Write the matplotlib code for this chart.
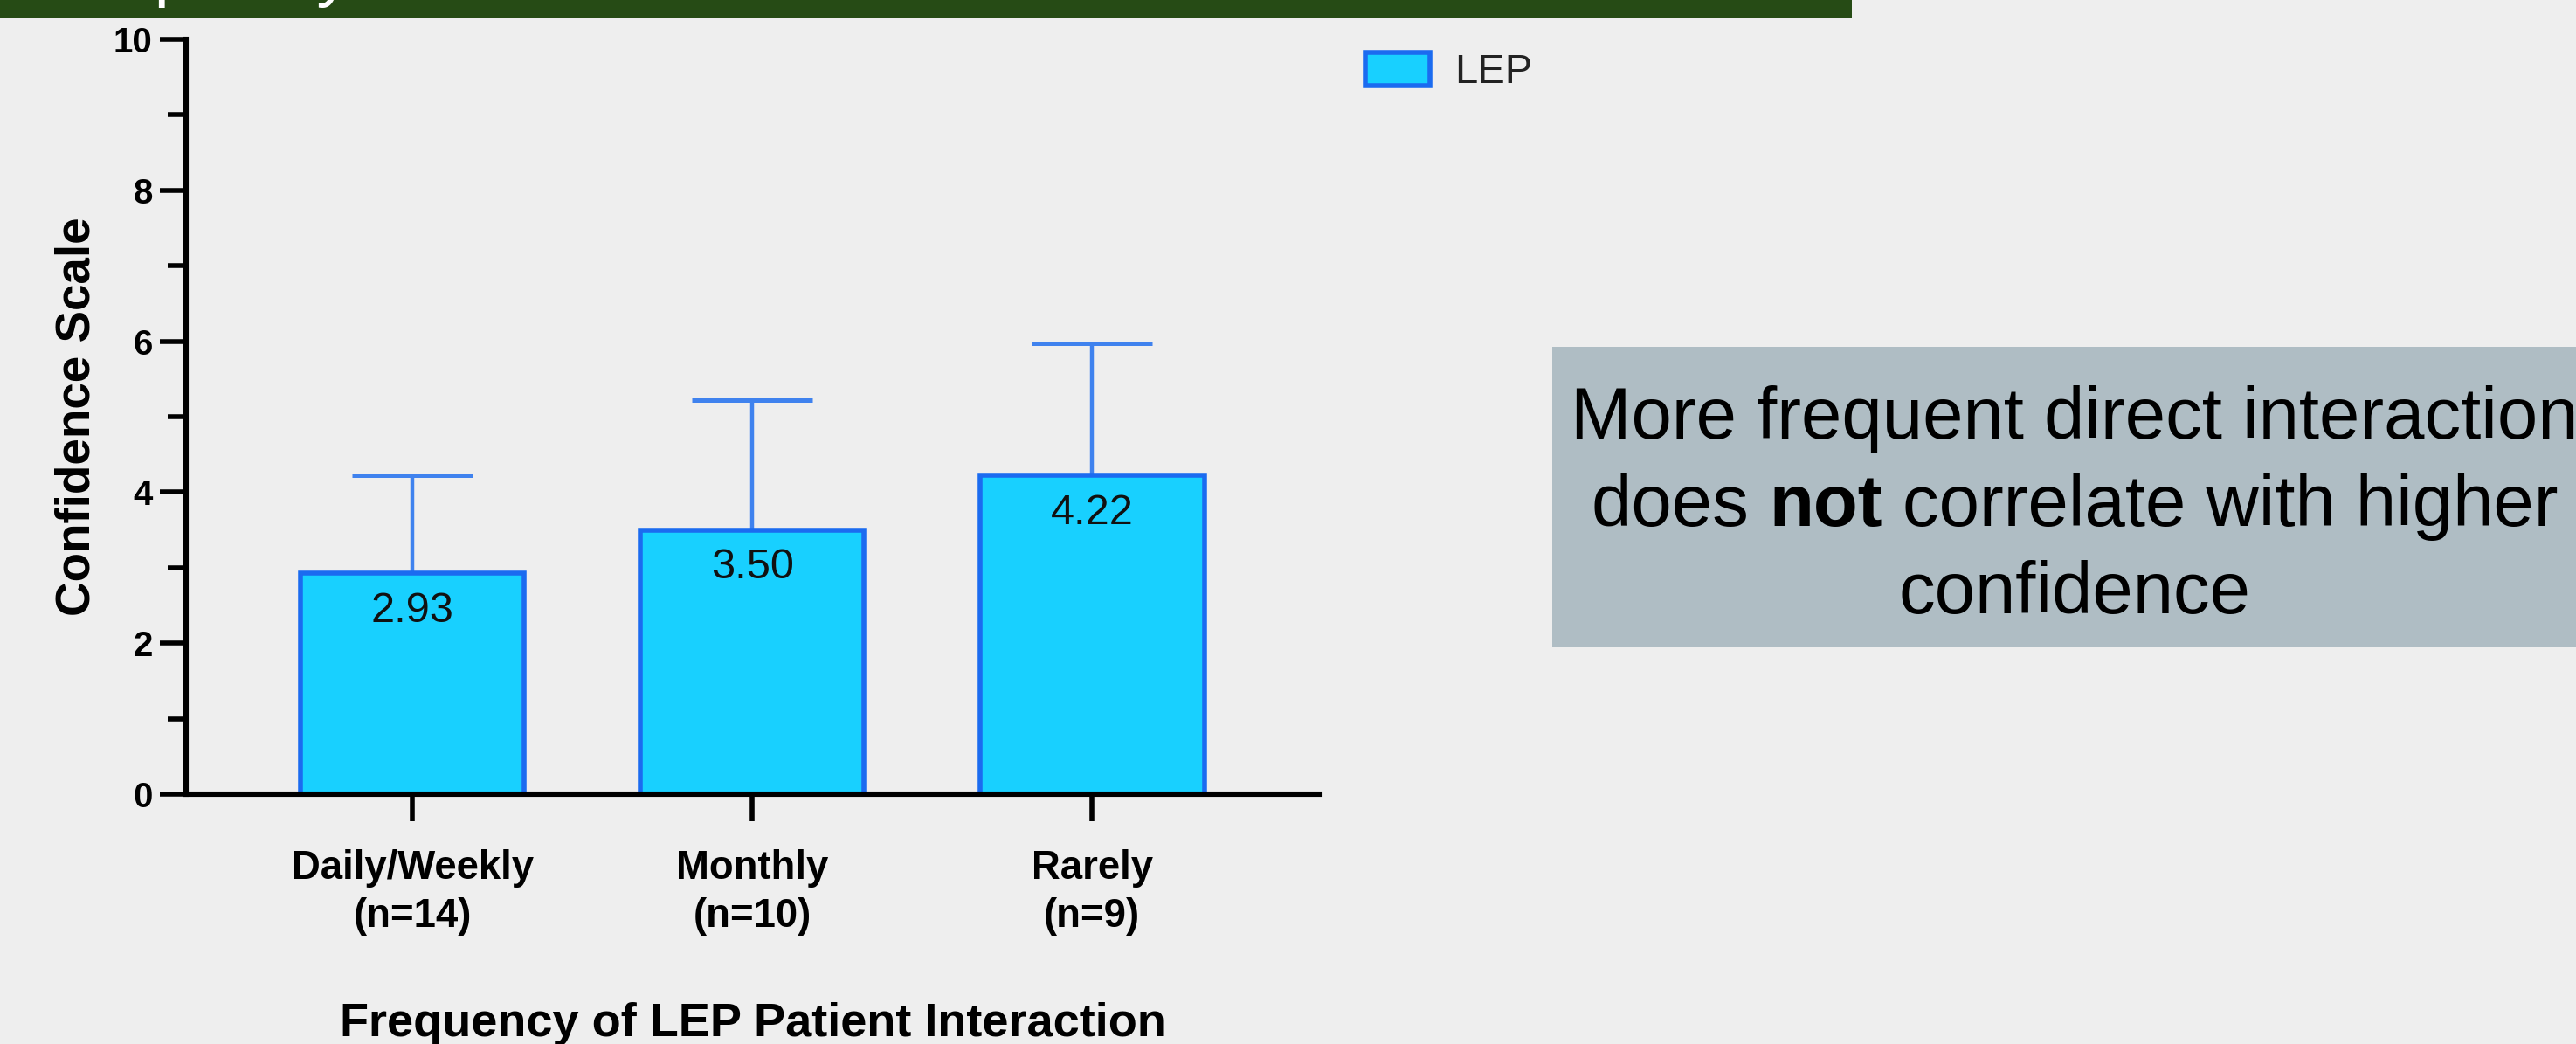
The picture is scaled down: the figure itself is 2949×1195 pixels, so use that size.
import matplotlib
matplotlib.use("Agg")
import matplotlib.pyplot as plt
from matplotlib.patches import Rectangle
from matplotlib.ticker import MultipleLocator

plt.rcParams['font.family'] = ['Liberation Sans', 'DejaVu Sans']

# ---- data ----
categories = ["Daily/Weekly\n(n=14)", "Monthly\n(n=10)", "Rarely\n(n=9)"]
means = [2.93, 3.50, 4.22]
upper_err = [1.29, 1.72, 1.75]
value_labels = ["2.93", "3.50", "4.22"]
series_name = "LEP"
y_ticks = [0, 2, 4, 6, 8, 10]

W, H, DPI = 2949, 1195, 200
BG = "#EEEEEE"
FILL = "#18D0FF"
EDGE = "#1B6BF0"
ERR = "#3F82EE"

fig = plt.figure(figsize=(W / DPI, H / DPI), dpi=DPI, facecolor=BG)

def fx(px):
    return px / W

def fy(py):
    return 1 - py / H

# top banner
fig.patches.append(Rectangle((0, fy(21)), fx(2120), 21 / H, transform=fig.transFigure,
                             facecolor="#264B15", edgecolor="none", zorder=0))
fig.text(fx(35), fy(-7), "Frequency", color="white", fontsize=28, va="baseline", ha="left")

# axes
ax_left, ax_right, ax_top, ax_bot = 213, 1510, 45, 909
ax = fig.add_axes([fx(ax_left), fy(ax_bot), (ax_right - ax_left) / W, (ax_bot - ax_top) / H])
ax.set_facecolor("none")

x = list(range(len(categories)))
bars = ax.bar(x, means, width=0.66, color=FILL, edgecolor=EDGE, linewidth=2.0,
              label=series_name, zorder=3)
ax.errorbar(x, means, yerr=[[0] * len(means), upper_err], fmt="none", ecolor=ERR,
            elinewidth=1.6, capsize=24.8, capthick=1.8, zorder=2)

for xi, m, lab in zip(x, means, value_labels):
    ax.annotate(lab, (xi, m), xytext=(0, -7.5), textcoords="offset points",
                ha="center", va="top", fontsize=17.5, color="#111111", zorder=4)

ax.set_ylim(0, 10)
ax.set_xlim(-0.666, 2.668)
ax.set_yticks(y_ticks)
ax.set_yticklabels([str(t) for t in y_ticks], fontweight="bold", fontsize=14.5)
ax.yaxis.set_minor_locator(MultipleLocator(1))
ax.set_xticks(x)
ax.set_xticklabels(categories, fontweight="bold", fontsize=16.4, linespacing=1.35)

for s in ["top", "right"]:
    ax.spines[s].set_visible(False)
for s in ["left", "bottom"]:
    ax.spines[s].set_linewidth(2.2)
    ax.spines[s].set_color("black")
    ax.spines[s].set_zorder(5)

ax.tick_params(axis="y", which="major", length=10.8, width=2.0, pad=3, colors="black")
ax.tick_params(axis="y", which="minor", length=7.5, width=2.0)
ax.tick_params(axis="x", which="major", length=11, width=2.0, pad=11.5)

ax.set_ylabel("Confidence Scale", fontweight="bold", fontsize=19.7)
ax.yaxis.set_label_coords(-0.076, 0.5)
ax.set_xlabel("Frequency of LEP Patient Interaction", fontweight="bold", fontsize=19.5)
ax.xaxis.set_label_coords(0.5, -0.275)

# legend
fig.legend(handles=[bars], labels=[series_name], loc="upper left",
           bbox_to_anchor=(fx(1563), fy(60)), frameon=False, fontsize=17,
           borderpad=0, borderaxespad=0, handlelength=1.57, handleheight=0.85,
           handletextpad=0.6, labelcolor="#222222")

# annotation box
fig.patches.append(Rectangle((fx(1777), fy(741)), fx(1300), (741 - 397) / H,
                             transform=fig.transFigure, facecolor="#AFBDC4",
                             edgecolor="none", zorder=0))
cx = 2375
FS = 30
fig.text(fx(cx), fy(502), "More frequent direct interaction", fontsize=FS,
         ha="center", va="baseline", color="black")
fig.text(fx(cx), fy(702), "confidence", fontsize=FS, ha="center", va="baseline", color="black")

r = fig.canvas.get_renderer()

def text_w(s, weight="normal"):
    t = fig.text(0, 0, s, fontsize=FS, fontweight=weight)
    w = t.get_window_extent(r).width
    t.remove()
    return w

sp = text_w("a a") - text_w("aa")
parts = [("does", "normal"), ("not", "bold"), ("correlate with higher", "normal")]
widths = [text_w(s, wt) for s, wt in parts]
total = sum(widths) + sp * (len(parts) - 1)
xpos = cx - total / 2
for (s, wt), w in zip(parts, widths):
    fig.text(fx(xpos), fy(602), s, fontsize=FS, fontweight=wt, ha="left",
             va="baseline", color="black")
    xpos += w + sp

fig.savefig("out.png", dpi=DPI, facecolor=BG)
